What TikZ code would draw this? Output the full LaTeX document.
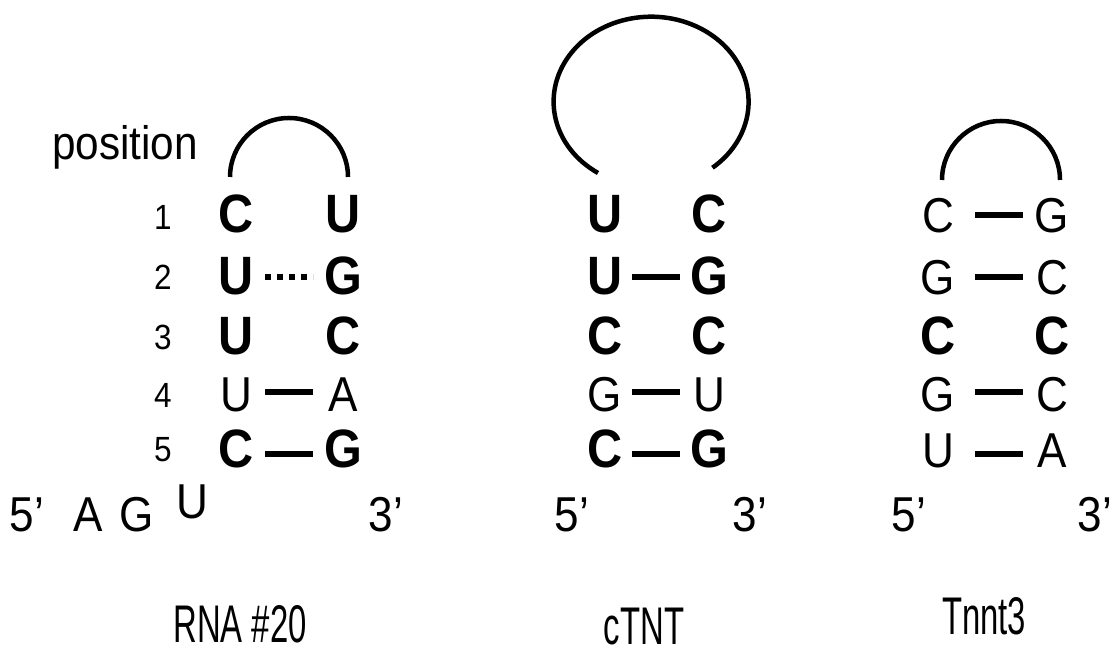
\documentclass[tikz,border=0pt]{standalone}
\usepackage{fontspec}
\setmainfont{Liberation Sans}[FakeStretch=0.9]
\newfontfamily\labfont{Liberation Sans}[FakeStretch=0.62]
\begin{document}
\begin{tikzpicture}[x=1pt,y=1pt,
  lt/.style={inner sep=0pt,outer sep=0pt,anchor=base},
  bb/.style={lt,font=\fontsize{54}{54}\selectfont\bfseries},
  rg/.style={lt,font=\fontsize{49}{49}\selectfont},
  num/.style={lt,font=\fontsize{35}{35}\selectfont},
  lab/.style={lt,font=\labfont\fontsize{53}{53}\selectfont},
  loop/.style={line width=4.5pt},
  bond/.style={line width=6pt},
  dotbond/.style={line width=6pt,dash pattern=on 6pt off 6pt},
  sA/.style={shorten <=29pt,shorten >=30pt},
  sB/.style={shorten <=27pt,shorten >=29pt},
  sC/.style={shorten <=37pt,shorten >=29pt}]
\useasboundingbox (0,0) rectangle (1110,652);
% ---------- RNA #20 ----------
\node[lt,font=\fontsize{47}{47}\selectfont] (pos) at (125,492) {position};
\node[num] (n1) at (163,422) {1};
\node[num] (n2) at (163,362) {2};
\node[num] (n3) at (163,302) {3};
\node[num] (n4) at (163,244) {4};
\node[num] (n5) at (163,190) {5};
\node[bb] (a1l) at (236,419) {C}; \node[bb] (a1r) at (343,419) {U};
\node[bb] (a2l) at (236,357) {U}; \node[bb] (a2r) at (343,357) {G};
\node[bb] (a3l) at (236,297) {U}; \node[bb] (a3r) at (343,297) {C};
\node[rg] (a4l) at (236,240) {U}; \node[rg] (a4r) at (343,240) {A};
\node[bb] (a5l) at (236,184) {C}; \node[bb] (a5r) at (343,184) {G};
\draw[dotbond,sA] ([yshift=18pt]a2l.base) -- ([yshift=18pt]a2r.base);
\draw[bond,sA] ([yshift=20pt]a4l.base) -- ([yshift=20pt]a4r.base);
\draw[bond,sA] ([yshift=14pt]a5l.base) -- ([yshift=14pt]a5r.base);
\coordinate (aL) at (230,475);
\draw[loop] (aL) arc[start angle=180,end angle=0,radius=59];
\node[rg] (a5p) at (27,120) {5’};
\node[rg] (aA) at (88,120) {A};
\node[rg] (aG) at (137,120) {G};
\node[rg] (aU) at (192,133) {U};
\node[rg] (a3p) at (386,120) {3’};
\node[lab] (labA) at (240,9) {RNA \#20};
% ---------- cTNT ----------
\node[bb] (b1l) at (605,419) {U}; \node[bb] (b1r) at (709,419) {C};
\node[bb] (b2l) at (605,357) {U}; \node[bb] (b2r) at (709,357) {G};
\node[bb] (b3l) at (605,297) {C}; \node[bb] (b3r) at (709,297) {C};
\node[rg] (b4l) at (605,240) {G}; \node[rg] (b4r) at (709,240) {U};
\node[bb] (b5l) at (605,184) {C}; \node[bb] (b5r) at (709,184) {G};
\draw[bond,sB] ([yshift=18pt]b2l.base) -- ([yshift=18pt]b2r.base);
\draw[bond,sB] ([yshift=20pt]b4l.base) -- ([yshift=20pt]b4r.base);
\draw[bond,sB] ([yshift=14pt]b5l.base) -- ([yshift=14pt]b5r.base);
\coordinate (bL) at (598,479);
\draw[loop] (bL) arc[start angle=237,end angle=-51,x radius=97.5,y radius=85];
\node[rg] (b5p) at (572,120) {5’};
\node[rg] (b3p) at (750,120) {3’};
\node[lab] (labB) at (644,7) {cTNT};
% ---------- Tnnt3 ----------
\node[rg] (c1l) at (938,419) {C}; \node[rg] (c1r) at (1052,419) {G};
\node[rg] (c2l) at (938,357) {G}; \node[rg] (c2r) at (1052,357) {C};
\node[bb] (c3l) at (938,297) {C}; \node[bb] (c3r) at (1052,297) {C};
\node[rg] (c4l) at (938,240) {G}; \node[rg] (c4r) at (1052,240) {C};
\node[rg] (c5l) at (938,184) {U}; \node[rg] (c5r) at (1052,184) {A};
\draw[bond,sC] ([yshift=18pt]c1l.base) -- ([yshift=18pt]c1r.base);
\draw[bond,sC] ([yshift=18pt]c2l.base) -- ([yshift=18pt]c2r.base);
\draw[bond,sC] ([yshift=20pt]c4l.base) -- ([yshift=20pt]c4r.base);
\draw[bond,sC] ([yshift=14pt]c5l.base) -- ([yshift=14pt]c5r.base);
\coordinate (cL) at (942,472);
\draw[loop] (cL) arc[start angle=180,end angle=0,radius=59];
\node[rg] (c5p) at (909,120) {5’};
\node[rg] (c3p) at (1095,120) {3’};
\node[lab] (labC) at (984,17) {Tnnt3};
\end{tikzpicture}
\end{document}
